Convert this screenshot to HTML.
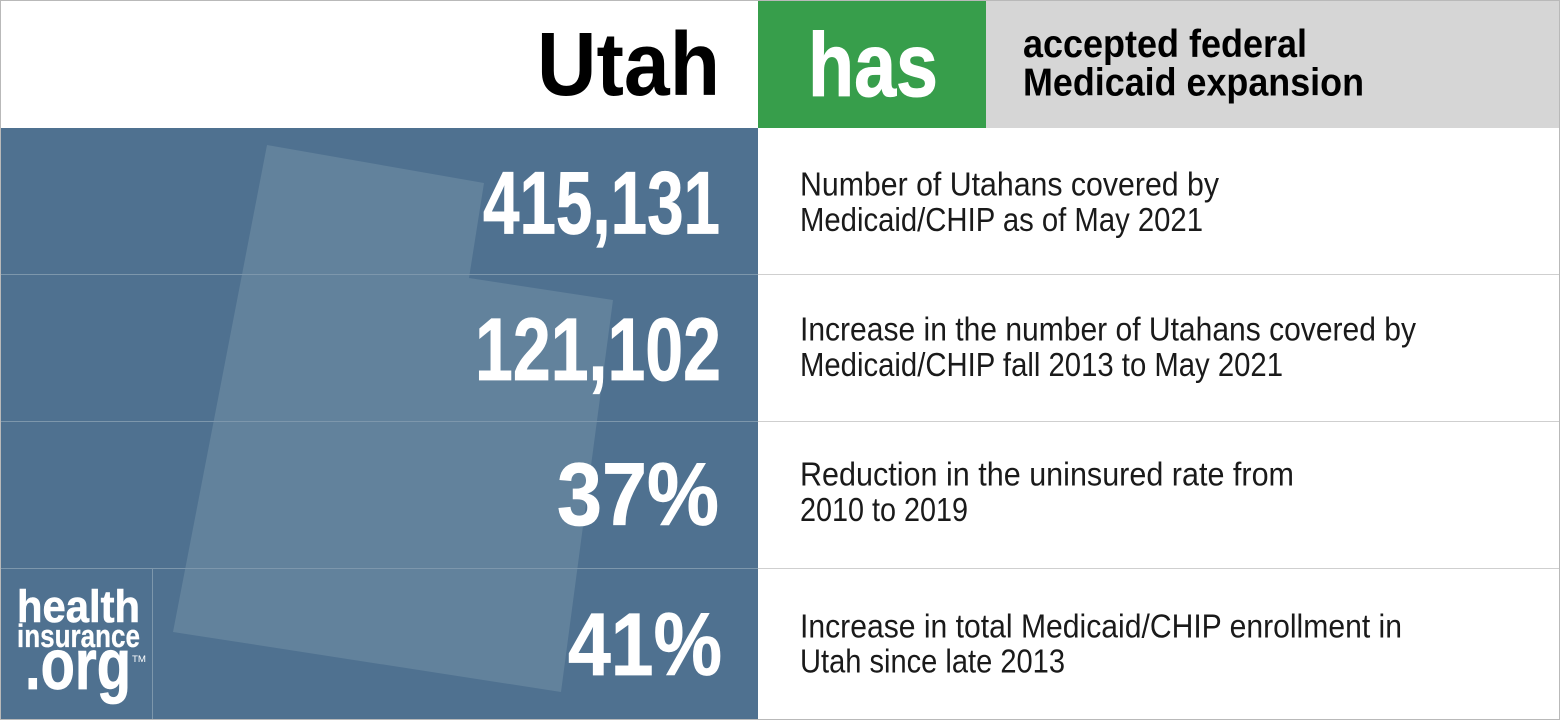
<!DOCTYPE html>
<html lang="en">
<head>
<meta charset="utf-8">
<title>Utah Medicaid expansion</title>
<style>
html,body{margin:0;padding:0;background:#fff;width:1560px;height:720px;overflow:hidden}
svg{display:block}
text{font-family:"Liberation Sans",sans-serif}
.num{fill:#fff;font-size:89px;font-weight:700;stroke:#fff;stroke-width:0.8px}
.desc{fill:#1a1a1a;font-size:33px}
</style>
</head>
<body>
<svg width="1560" height="720" viewBox="0 0 1560 720">
<rect x="0" y="0" width="1560" height="720" fill="#ffffff"/>
<rect x="0" y="128" width="758" height="592" fill="#4f7190"/>
<polygon points="267,145 484,183 469,278 613,300 561,692 173,632" fill="#62829c"/>
<rect x="758" y="0" width="228" height="128" fill="#379e4b"/>
<rect x="986" y="0" width="574" height="128" fill="#d6d6d6"/>
<g stroke="#7d97ac" stroke-width="1">
<line x1="0" x2="758" y1="274.5" y2="274.5"/>
<line x1="0" x2="758" y1="421.5" y2="421.5"/>
<line x1="0" x2="758" y1="568.5" y2="568.5"/>
<line x1="152.5" x2="152.5" y1="568" y2="720"/>
</g>
<g stroke="#cfcfcf" stroke-width="1">
<line x1="758" x2="1560" y1="274.5" y2="274.5"/>
<line x1="758" x2="1560" y1="421.5" y2="421.5"/>
<line x1="758" x2="1560" y1="568.5" y2="568.5"/>
</g>
<text x="537" y="95" font-size="90" font-weight="700" fill="#000" textLength="183" lengthAdjust="spacingAndGlyphs">Utah</text>
<text x="808" y="96" font-size="90" font-weight="700" fill="#fff" stroke="#fff" stroke-width="1" textLength="130" lengthAdjust="spacingAndGlyphs">has</text>
<text x="1023" y="57" font-size="39" font-weight="700" fill="#000" textLength="284" lengthAdjust="spacingAndGlyphs">accepted federal</text>
<text x="1023" y="95.5" font-size="39" font-weight="700" fill="#000" textLength="341" lengthAdjust="spacingAndGlyphs">Medicaid expansion</text>
<text class="num" x="483" y="233.5" textLength="237" lengthAdjust="spacingAndGlyphs">415,131</text>
<text class="num" x="475" y="380" textLength="246" lengthAdjust="spacingAndGlyphs">121,102</text>
<text class="num" x="557" y="525" textLength="162" lengthAdjust="spacingAndGlyphs">37%</text>
<text class="num" x="568" y="675" textLength="154" lengthAdjust="spacingAndGlyphs">41%</text>
<text class="desc" x="800" y="195.5" textLength="419" lengthAdjust="spacingAndGlyphs">Number of Utahans covered by</text>
<text class="desc" x="800" y="231" textLength="403" lengthAdjust="spacingAndGlyphs">Medicaid/CHIP as of May 2021</text>
<text class="desc" x="800" y="340.5" textLength="616" lengthAdjust="spacingAndGlyphs">Increase in the number of Utahans covered by</text>
<text class="desc" x="800" y="376" textLength="483" lengthAdjust="spacingAndGlyphs">Medicaid/CHIP fall 2013 to May 2021</text>
<text class="desc" x="800" y="485.5" textLength="494" lengthAdjust="spacingAndGlyphs">Reduction in the uninsured rate from</text>
<text class="desc" x="800" y="521" textLength="168" lengthAdjust="spacingAndGlyphs">2010 to 2019</text>
<text class="desc" x="800" y="637.5" textLength="602" lengthAdjust="spacingAndGlyphs">Increase in total Medicaid/CHIP enrollment in</text>
<text class="desc" x="800" y="672.5" textLength="265" lengthAdjust="spacingAndGlyphs">Utah since late 2013</text>
<g fill="#fff" stroke="#fff" font-weight="700">
<text x="17" y="622" font-size="45" stroke-width="0.6" textLength="123" lengthAdjust="spacingAndGlyphs">health</text>
<text x="17" y="647" font-size="32" stroke-width="0.3" textLength="123" lengthAdjust="spacingAndGlyphs">insurance</text>
<text x="25" y="689" font-size="71" stroke-width="0.8" textLength="106" lengthAdjust="spacingAndGlyphs">.org</text>
<text x="132" y="662" font-size="9" stroke="none" font-weight="400" textLength="14" lengthAdjust="spacingAndGlyphs">TM</text>
</g>
<rect x="0.5" y="0.5" width="1559" height="719" fill="none" stroke="#b9b9b9" stroke-width="1"/>
</svg>
</body>
</html>
